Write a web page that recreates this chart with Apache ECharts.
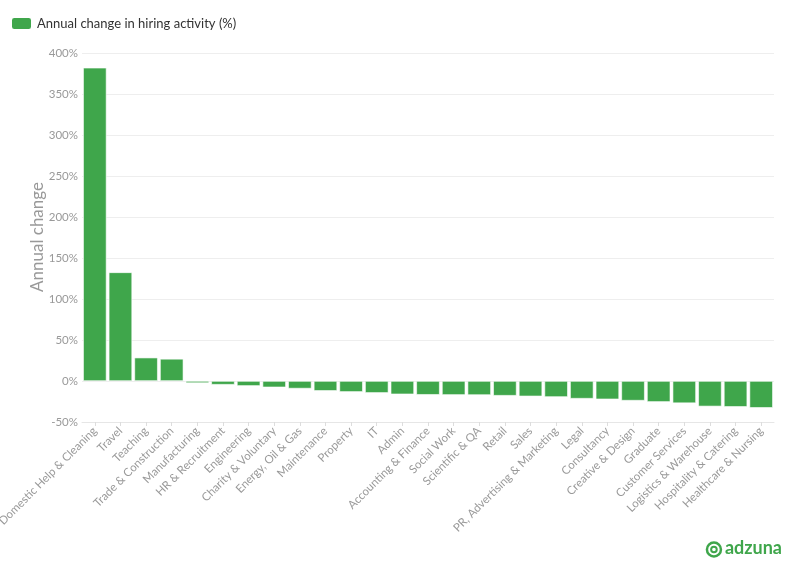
<!DOCTYPE html>
<html><head><meta charset="utf-8">
<script src="https://cdn.jsdelivr.net/npm/echarts@6/dist/echarts.min.js"></script>
<style>html,body{margin:0;padding:0;background:#fff}#c{width:794px;height:575px}</style>
</head><body><div id="c"></div>
<script>
const categories = ["Domestic Help & Cleaning","Travel","Teaching","Trade & Construction","Manufacturing","HR & Recruitment","Engineering","Charity & Voluntary","Energy, Oil & Gas","Maintenance","Property","IT","Admin","Accounting & Finance","Social Work","Scientific & QA","Retail","Sales","PR, Advertising & Marketing","Legal","Consultancy","Creative & Design","Graduate","Customer Services","Logistics & Warehouse","Hospitality & Catering","Healthcare & Nursing"];
const values = [382, 132.5, 28.5, 27, -2.5, -4.5, -6, -7.7, -9.2, -12, -13.3, -14.5, -16.2, -16.8, -17, -17.1, -17.9, -18.7, -19.5, -21.5, -22.3, -23.9, -25.5, -27, -31, -31.5, -32.7];
const seriesName = "Annual change in hiring activity (%)";
const yTitle = "Annual change";

const chart = echarts.init(document.getElementById('c'), null, {renderer:'canvas'});
const font = "'Source Sans Pro', Lato, 'Open Sans', sans-serif";
chart.setOption({
  animation:false,
  textStyle:{fontFamily:font},
  legend:{left:5, top:11, itemWidth:21, itemHeight:13, itemGap:10,
    textStyle:{color:'#333', fontSize:13, fontFamily:font},
    data:[{name:seriesName, icon:'roundRect'}]},
  grid:{left:82, right:20, top:53, bottom:153, containLabel:false, outerBoundsMode:'none'},
  xAxis:{type:'category', data:categories,
    axisLine:{onZero:false, lineStyle:{color:'#e6e6e6'}},
    axisTick:{show:true, alignWithLabel:true, length:4, lineStyle:{color:'#dddddd'}},
    axisLabel:{rotate:45, interval:0, color:'#999', fontSize:11.5, margin:7, fontFamily:font}},
  yAxis:{type:'value', min:-50, max:400, interval:50,
    axisLine:{show:false}, axisTick:{show:false},
    axisLabel:{formatter:'{value}%', color:'#999', fontSize:11.5, margin:4, fontFamily:font},
    splitLine:{lineStyle:{color:'#eeeeee'}}},
  series:[{name:seriesName, type:'bar', data:values, barCategoryGap:'9%',
    itemStyle:{color:'#3fa64b', borderColor:'#ffffff', borderWidth:0.6}}],
  graphic:[
    {type:'text', x:38, y:237, rotation:Math.PI/2,
      style:{text:yTitle, fill:'#999', fontSize:17, fontFamily:font, align:'center', verticalAlign:'middle'}},
    {type:'group', right:12, bottom:16, children:[
      {type:'circle', shape:{cx:9, cy:9, r:7}, style:{fill:'none', stroke:'#3fa64b', lineWidth:2.5}},
      {type:'circle', shape:{cx:9, cy:9, r:2.8}, style:{fill:'none', stroke:'#3fa64b', lineWidth:2}},
      {type:'text', x:20, y:-1, style:{text:'adzuna', fill:'#3fa64b', fontSize:18, fontWeight:'bold', fontFamily:font}}
    ]}
  ]
});
</script></body></html>
